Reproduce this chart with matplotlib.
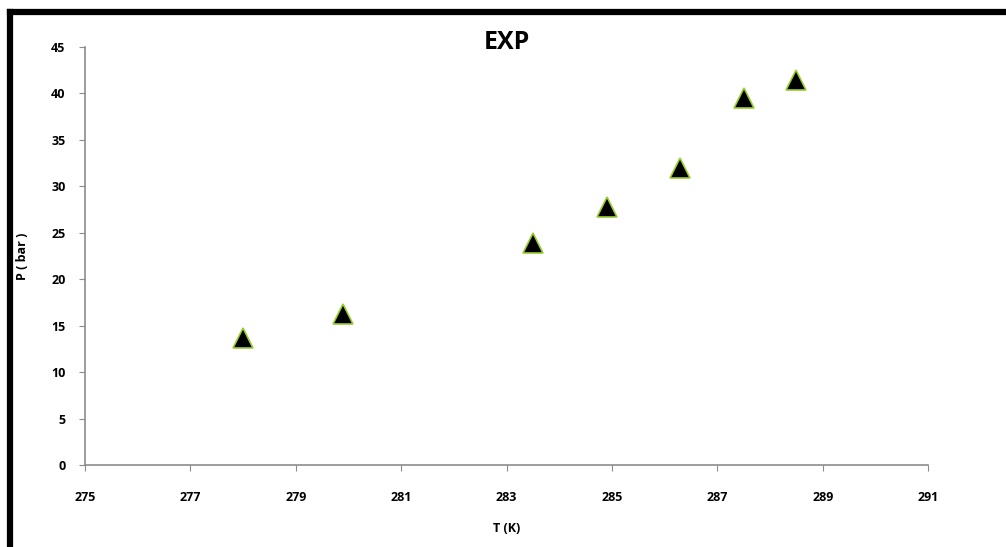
import numpy as np
import matplotlib.pyplot as plt
from matplotlib.lines import Line2D

# dados
T_vals = [278.0, 279.9, 283.5, 284.9, 286.3, 287.5, 288.5]
P_vals = [13.7, 16.3, 23.9, 27.8, 32.0, 39.5, 41.4]
x_ticks = [275, 277, 279, 281, 283, 285, 287, 289, 291]
y_ticks = [0, 5, 10, 15, 20, 25, 30, 35, 40, 45]

plt.rcParams['font.family'] = ['Open Sans', 'DejaVu Sans']
axis_gray = '#8c8c8c'

fig = plt.figure(figsize=(10.06, 5.47), dpi=100)
ax = fig.add_axes([0.0845, 0.150, 0.838, 0.764])

ax.plot(T_vals, P_vals, linestyle='none', marker='^', markersize=15,
        markerfacecolor='black', markeredgecolor='#9acd32', markeredgewidth=1.2)

ax.set_xlim(275, 291)
ax.set_ylim(0, 45)
ax.set_xticks(x_ticks)
ax.set_yticks(y_ticks)
ax.tick_params(axis='both', direction='out', length=4, color=axis_gray,
               labelsize=9, pad=10)
ax.tick_params(axis='x', pad=15)
for lab in ax.get_xticklabels() + ax.get_yticklabels():
    lab.set_fontweight('bold')
for s in ['top', 'right']:
    ax.spines[s].set_visible(False)
for s in ['left', 'bottom']:
    ax.spines[s].set_color(axis_gray)
    ax.spines[s].set_linewidth(1.2)

# titulo posicionado manualmente (y fixo desliga o ajuste automatico)
ax.set_title('EXP', fontsize=18, fontweight='bold', y=0.995, pad=0)
ax.set_xlabel('T (K)', fontsize=9, fontweight='bold', labelpad=13)
ax.set_ylabel('P ( bar )', fontsize=9, fontweight='bold', labelpad=16)

# moldura (apenas topo e lado esquerdo visiveis)
fig.add_artist(Line2D([0.0095, 1.0], [0.978, 0.978], transform=fig.transFigure,
                      color='black', linewidth=4.5))
fig.add_artist(Line2D([0.0095, 0.0095], [0.0, 0.978], transform=fig.transFigure,
                      color='black', linewidth=4.5))

fig.savefig('out.png', dpi=100)
